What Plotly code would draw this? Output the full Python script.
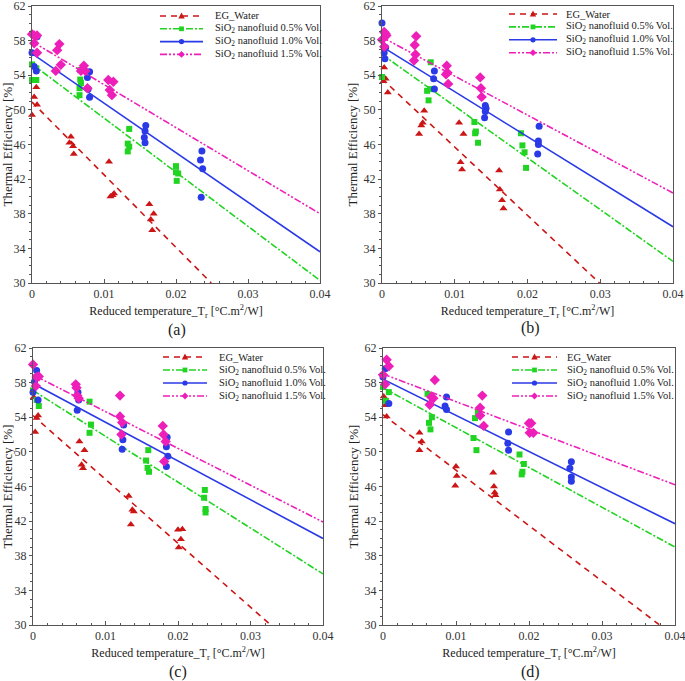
import plotly.graph_objects as go

# ---------------- data ----------------
series_names = ["EG_Water", "SiO<sub>2</sub> nanofluid 0.5% Vol.",
                "SiO<sub>2</sub> nanofluid 1.0% Vol.", "SiO<sub>2</sub> nanofluid 1.5% Vol."]
panel_labels = ["(a)", "(b)", "(c)", "(d)"]
y_ticks = [30, 34, 38, 42, 46, 50, 54, 58, 62]
x_ticks = [0, 0.01, 0.02, 0.03, 0.04]
x_tick_text = ["0", "0.01", "0.02", "0.03", "0.04"]

# Panel (a)
a_eg_x = [0.0, 0.0003, 0.0006, 0.0007, 0.0054, 0.0052, 0.0057, 0.0058, 0.0107, 0.0109, 0.0112, 0.0114, 0.0163, 0.0169, 0.0165, 0.0167]
a_eg_y = [49.4, 51.5, 52.6, 50.6, 46.9, 46.2, 45.8, 44.9, 44.0, 40.0, 40.15, 40.35, 39.1, 38.0, 37.35, 36.1]
a_g_x = [0.0, 0.0, 0.0003, 0.0006, 0.0006, 0.0067, 0.0068, 0.0066, 0.0066, 0.0067, 0.0135, 0.0133, 0.0135, 0.0133, 0.0200, 0.0200, 0.0203, 0.0201]
a_g_y = [55.25, 53.45, 53.45, 53.45, 54.8, 53.5, 53.1, 52.5, 51.7, 54.6, 47.8, 46.1, 45.75, 45.2, 43.5, 42.8, 42.65, 41.8]
a_b_x = [0.0, 0.0003, 0.0006, 0.0007, 0.0080, 0.0077, 0.0078, 0.0080, 0.0158, 0.0156, 0.0157, 0.0157, 0.0236, 0.0234, 0.0237, 0.0235]
a_b_y = [56.6, 55.0, 54.5, 58.45, 54.4, 53.75, 52.4, 51.45, 48.2, 46.8, 47.55, 46.2, 45.25, 44.2, 43.2, 39.9]
a_m_x = [0.0, 0.0003, 0.0007, 0.0003, 0.0007, 0.0038, 0.0035, 0.0040, 0.0033, 0.0072, 0.0068, 0.0074, 0.0077, 0.0106, 0.0113, 0.0108, 0.0111]
a_m_y = [58.75, 58.6, 58.6, 57.7, 56.6, 57.6, 56.9, 55.2, 54.5, 55.1, 54.5, 54.5, 52.5, 53.45, 53.25, 52.3, 51.7]

# Panel (b)
b_eg_x = [0.0003, 0.0005, 0.0002, 0.0008, 0.0058, 0.0051, 0.0054, 0.0056, 0.0106, 0.0112, 0.0108, 0.0110, 0.0161, 0.0162, 0.0165, 0.0167]
b_eg_y = [54.9, 53.6, 53.3, 52.0, 49.9, 47.2, 48.2, 48.5, 48.5, 47.2, 43.95, 43.1, 43.0, 40.8, 39.55, 38.6]
b_g_x = [0.0, 0.0067, 0.0062, 0.0066, 0.0064, 0.0127, 0.0129, 0.0128, 0.0132, 0.0191, 0.0193, 0.0196, 0.0198]
b_g_y = [53.8, 55.5, 52.2, 52.4, 51.1, 48.6, 47.5, 47.3, 46.2, 47.3, 45.9, 45.1, 43.3]
b_b_x = [0.0, 0.0005, 0.0003, 0.0004, 0.0072, 0.0071, 0.0072, 0.0142, 0.0143, 0.0142, 0.0141, 0.0216, 0.0215, 0.0215, 0.0214]
b_b_y = [60.05, 57.2, 56.6, 55.9, 54.5, 53.6, 52.4, 50.5, 50.2, 49.8, 49.1, 48.1, 46.4, 46.0, 44.9]
b_m_x = [0.0, 0.0003, 0.0005, 0.0006, 0.0003, 0.0047, 0.0045, 0.0046, 0.0044, 0.0089, 0.0090, 0.0088, 0.0091, 0.0135, 0.0136, 0.0137]
b_m_y = [58.1, 59.0, 58.8, 58.6, 57.3, 58.5, 57.5, 56.4, 55.7, 55.1, 54.3, 54.1, 53.0, 53.75, 52.5, 51.5]

# Panel (c)
c_eg_x = [0.0001, 0.0003, 0.0005, 0.0007, 0.0064, 0.0071, 0.0067, 0.0069, 0.0132, 0.0137, 0.0139, 0.0135, 0.0200, 0.0206, 0.0204, 0.0201]
c_eg_y = [56.3, 52.3, 53.9, 54.2, 51.2, 50.2, 48.5, 48.1, 44.9, 43.3, 43.1, 41.6, 41.0, 41.05, 39.9, 38.95]
c_g_x = [0.0, 0.0005, 0.0008, 0.0078, 0.0080, 0.0078, 0.0159, 0.0156, 0.0158, 0.0160, 0.0237, 0.0236, 0.0238, 0.0238]
c_g_y = [57.1, 56.0, 55.3, 55.8, 53.15, 52.2, 50.2, 49.0, 48.15, 47.7, 45.6, 44.7, 43.4, 43.0]
c_b_x = [0.0, 0.0005, 0.0002, 0.0007, 0.0062, 0.0063, 0.0061, 0.0125, 0.0124, 0.0123, 0.0185, 0.0184, 0.0186, 0.0184]
c_b_y = [56.9, 59.4, 58.1, 56.0, 56.9, 56.0, 54.8, 53.1, 51.4, 50.3, 51.7, 50.6, 49.5, 48.3]
c_m_x = [0.0, 0.0005, 0.0008, 0.0004, 0.0059, 0.0060, 0.0061, 0.0063, 0.0120, 0.0120, 0.0123, 0.0122, 0.0179, 0.0180, 0.0183, 0.0181]
c_m_y = [60.1, 58.65, 58.7, 57.6, 57.8, 57.4, 56.5, 56.2, 56.5, 54.1, 53.4, 52.0, 53.0, 52.0, 51.2, 48.9]

# Panel (d)
d_eg_x = [0.0001, 0.0003, 0.0005, 0.0050, 0.0053, 0.0050, 0.0100, 0.0101, 0.0099, 0.0151, 0.0152, 0.0153, 0.0154]
d_eg_y = [56.4, 55.4, 54.1, 52.2, 51.2, 50.2, 48.3, 47.2, 46.1, 47.6, 46.0, 45.3, 45.0]
d_g_x = [0.0, 0.0004, 0.0008, 0.0061, 0.0067, 0.0063, 0.0065, 0.0130, 0.0126, 0.0124, 0.0128, 0.0187, 0.0193, 0.0191, 0.0190]
d_g_y = [57.5, 55.9, 56.9, 56.7, 54.0, 53.35, 52.6, 54.6, 53.9, 51.6, 50.2, 49.7, 48.6, 47.7, 47.4]
d_b_x = [0.0, 0.0003, 0.0008, 0.0087, 0.0085, 0.0087, 0.0172, 0.0171, 0.0172, 0.0258, 0.0256, 0.0258, 0.0258]
d_b_y = [58.65, 59.6, 55.6, 56.35, 55.3, 54.9, 52.3, 51.0, 50.2, 48.85, 48.1, 47.1, 46.6]
d_m_x = [0.0005, 0.0008, 0.0, 0.0003, 0.0071, 0.0066, 0.0069, 0.0064, 0.0136, 0.0133, 0.0133, 0.0138, 0.0200, 0.0203, 0.0201, 0.0206]
d_m_y = [60.65, 59.9, 58.9, 57.8, 58.3, 56.35, 56.2, 55.45, 56.5, 55.1, 54.2, 53.0, 53.3, 53.3, 52.2, 52.2]

# Fitted lines: endpoints (x, y)
a_fit_x = [[0.0, 0.0249], [0.0, 0.04], [0.0, 0.04], [0.0, 0.04]]
a_fit_y = [[50.9, 30.0], [55.3, 30.3], [56.5, 33.6], [57.9, 38.0]]
b_fit_x = [[0.0, 0.0299], [0.0, 0.04], [0.0, 0.04], [0.0, 0.04]]
b_fit_y = [[53.6, 30.0], [56.4, 32.5], [57.3, 36.5], [58.4, 40.4]]
c_fit_x = [[0.0, 0.0328], [0.0, 0.04], [0.0, 0.04], [0.0, 0.04]]
c_fit_y = [[54.2, 30.0], [57.1, 35.9], [57.9, 40.0], [58.9, 41.9]]
d_fit_x = [[0.0, 0.0379], [0.0, 0.04], [0.0, 0.04], [0.0, 0.04]]
d_fit_y = [[54.3, 30.0], [57.4, 39.0], [58.4, 41.7], [59.0, 46.2]]

# ---------------- styles ----------------
colors = ["#cc1515", "#22d422", "#2a3ae6", "#ee1fb8"]
dashes = ["6px,5px", "7px,2px,2px,2px", "solid", "7px,2px,2px,2px,2px,2px"]
symbols = ["triangle-up", "square", "circle", "diamond"]
msizes = [7, 6, 7, 8]
FONT = "Liberation Serif"

panels = [
    ([a_eg_x, a_g_x, a_b_x, a_m_x], [a_eg_y, a_g_y, a_b_y, a_m_y], a_fit_x, a_fit_y),
    ([b_eg_x, b_g_x, b_b_x, b_m_x], [b_eg_y, b_g_y, b_b_y, b_m_y], b_fit_x, b_fit_y),
    ([c_eg_x, c_g_x, c_b_x, c_m_x], [c_eg_y, c_g_y, c_b_y, c_m_y], c_fit_x, c_fit_y),
    ([d_eg_x, d_g_x, d_b_x, d_m_x], [d_eg_y, d_g_y, d_b_y, d_m_y], d_fit_x, d_fit_y),
]

W, H = 685, 681
# plot areas in pixels: (left, right, top, bottom)
boxes = [(32, 320, 6, 283), (382, 673, 6, 283), (33, 323, 348, 625), (383, 675, 348, 625)]
# legend layout in pixels: (line start, line end, text left, first row y, row step)
legend_geo = [(160, 203, 213, 16, 12.8), (509, 557, 564, 14, 12.9),
              (163, 207, 217, 357, 13.0), (512, 557, 565, 357, 13.0)]
label_pos = [(177, 330), (530, 328), (178, 672), (530, 672)]

fig = go.Figure()
for p, (xs, ys, fx, fy) in enumerate(panels):
    xa = "x" if p == 0 else f"x{p+1}"
    ya = "y" if p == 0 else f"y{p+1}"
    for s in range(4):
        fig.add_trace(go.Scatter(x=fx[s], y=fy[s], mode="lines", xaxis=xa, yaxis=ya,
                                 line=dict(color=colors[s], width=1.6, dash=dashes[s]),
                                 showlegend=False, hoverinfo="skip"))
        fig.add_trace(go.Scatter(x=xs[s], y=ys[s], mode="markers", xaxis=xa, yaxis=ya,
                                 name=series_names[s],
                                 marker=dict(color=colors[s], symbol=symbols[s], size=msizes[s]),
                                 cliponaxis=False, showlegend=False))

layout = dict(width=W, height=H, margin=dict(l=0, r=0, t=0, b=0, autoexpand=False), autosize=False,
              paper_bgcolor="white", plot_bgcolor="white", showlegend=False,
              font=dict(family=FONT, color="#222"))
for p, (l, r, t, b) in enumerate(boxes):
    sx = "" if p == 0 else str(p + 1)
    xa_key, ya_key = "xaxis" + sx, "yaxis" + sx
    layout[xa_key] = dict(domain=[l / W, r / W], anchor="y" + sx, range=[0, 0.04],
                          tickvals=x_ticks, ticktext=x_tick_text, automargin=False,
                          ticklabeloverflow="allow",
                          ticks="inside", ticklen=4, tickcolor="#555",
                          minor=dict(dtick=0.002, tick0=0, ticks="inside", ticklen=2, tickcolor="#555"),
                          showline=True, linecolor="#555", linewidth=1, mirror=True,
                          showgrid=False, zeroline=False,
                          tickfont=dict(size=12, color="#333", family=FONT),
                          title=dict(text="Reduced temperature_T<sub>r</sub> [°C.m<sup>2</sup>/W]",
                                     font=dict(size=12, color="#222", family=FONT), standoff=6))
    layout[ya_key] = dict(domain=[1 - b / H, 1 - t / H], anchor="x" + sx, range=[30, 62],
                          tickvals=y_ticks, automargin=False, ticklabeloverflow="allow",
                          ticks="outside", ticklen=3, tickcolor="#555",
                          minor=dict(dtick=1, tick0=30, ticks="outside", ticklen=2, tickcolor="#555"),
                          showline=True, linecolor="#555", linewidth=1, mirror=True,
                          showgrid=False, zeroline=False,
                          tickfont=dict(size=12, color="#333", family=FONT),
                          title=dict(text="Thermal Efficiency [%]", font=dict(size=13, color="#222", family=FONT),
                                     standoff=3))

# ---------------- hand-built legends (tight row spacing like the reference) ----------------
def px(x):
    return x / W


def py(y):
    return 1 - y / H


shapes = []
annotations = []
for p, (x0, x1, tx, y0, step) in enumerate(legend_geo):
    for s in range(4):
        yc = y0 + s * step
        shapes.append(dict(type="line", xref="paper", yref="paper", x0=px(x0), x1=px(x1),
                           y0=py(yc), y1=py(yc),
                           line=dict(color=colors[s], width=1.6, dash=dashes[s])))
        mc = (x0 + x1) / 2
        if s == 0:  # triangle
            r = 3.2
            path = (f"M {px(mc - r)} {py(yc + r * 0.8)} L {px(mc + r)} {py(yc + r * 0.8)} "
                    f"L {px(mc)} {py(yc - r * 1.1)} Z")
            shapes.append(dict(type="path", xref="paper", yref="paper", path=path,
                               fillcolor=colors[s], line=dict(width=0)))
        elif s == 1:  # square
            r = 2.4
            shapes.append(dict(type="rect", xref="paper", yref="paper", x0=px(mc - r), x1=px(mc + r),
                               y0=py(yc + r), y1=py(yc - r), fillcolor=colors[s], line=dict(width=0)))
        elif s == 2:  # circle
            r = 2.6
            shapes.append(dict(type="circle", xref="paper", yref="paper", x0=px(mc - r), x1=px(mc + r),
                               y0=py(yc + r), y1=py(yc - r), fillcolor=colors[s], line=dict(width=0)))
        else:  # diamond
            r = 3.4
            path = (f"M {px(mc - r)} {py(yc)} L {px(mc)} {py(yc - r)} L {px(mc + r)} {py(yc)} "
                    f"L {px(mc)} {py(yc + r)} Z")
            shapes.append(dict(type="path", xref="paper", yref="paper", path=path,
                               fillcolor=colors[s], line=dict(width=0)))
        annotations.append(dict(text=series_names[s], x=px(tx), y=py(yc), xref="paper", yref="paper",
                                showarrow=False, xanchor="left", yanchor="middle",
                                font=dict(size=10.5, color="#222", family=FONT)))

for p, (cx, cy) in enumerate(label_pos):
    annotations.append(dict(text=panel_labels[p], x=px(cx), y=py(cy), xref="paper", yref="paper",
                            showarrow=False, font=dict(size=16, color="#222", family=FONT),
                            xanchor="center", yanchor="middle"))
layout["annotations"] = annotations
layout["shapes"] = shapes
fig.update_layout(**layout)
fig.write_html("out.html", config={"displayModeBar": False},
               post_script="document.body.style.margin='0';")
